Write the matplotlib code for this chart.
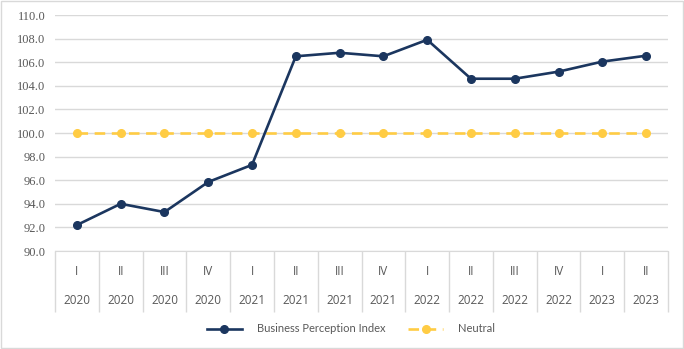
import matplotlib.pyplot as plt
from matplotlib.patches import Rectangle
from matplotlib.lines import Line2D

quarters = ['I', 'II', 'III', 'IV', 'I', 'II', 'III', 'IV', 'I', 'II', 'III', 'IV', 'I', 'II']
years = ['2020', '2020', '2020', '2020', '2021', '2021', '2021', '2021',
         '2022', '2022', '2022', '2022', '2023', '2023']
bpi = [92.2, 94.0, 93.3, 95.85, 97.3, 106.5, 106.8, 106.5, 107.9, 104.6, 104.6, 105.2, 106.05, 106.55]
neutral = [100.0] * 14

navy = '#1B365F'
gold = '#FFCC44'
grey_txt = '#595959'
grid_c = '#D9D9D9'

fig = plt.figure(figsize=(6.84, 3.49), dpi=100)
ax = fig.add_axes([55 / 684, 98 / 349, 613 / 684, 236 / 349])

x = list(range(len(bpi)))
ax.plot(x, neutral, color=gold, lw=1.9, ls=(0, (4, 2.5)), marker='o', ms=5.5, label='Neutral', zorder=3)
ax.plot(x, bpi, color=navy, lw=1.9, marker='o', ms=5.5, label='Business Perception Index', zorder=4)

ax.set_xlim(-0.5, len(x) - 0.5)
ax.set_ylim(90, 110)
ax.set_yticks([90 + 2 * i for i in range(11)])
ax.set_yticklabels([f'{90 + 2 * i:.1f}' for i in range(11)], family='Liberation Serif',
                   fontsize=9, color=grey_txt)
ax.tick_params(axis='y', length=0, pad=7)
ax.grid(axis='y', color=grid_c, lw=1)
ax.set_axisbelow(True)
for s in ['top', 'right', 'left']:
    ax.spines[s].set_visible(False)
ax.spines['bottom'].set_color(grid_c)

# category boxes: long ticks at the boundaries, labels as text
ax.set_xticks([i - 0.5 for i in range(len(x) + 1)])
ax.set_xticklabels([])
ax.tick_params(axis='x', length=44, color=grid_c, width=1)
trans = ax.get_xaxis_transform()
for i in x:
    ax.text(i, -0.085, quarters[i], transform=trans, ha='center', va='center',
            fontsize=8.5, color=grey_txt, family='Open Sans')
    ax.text(i, -0.21, years[i], transform=trans, ha='center', va='center',
            fontsize=8.5, color=grey_txt, family='Open Sans')

handles = [Line2D([], [], color=navy, lw=1.9, marker='o', ms=5.5),
           Line2D([], [], color=gold, lw=1.9, ls=(0, (4, 2.5)), marker='o', ms=5.5)]
fig.legend(handles, ['Business Perception Index', 'Neutral'], loc='center',
           bbox_to_anchor=(351 / 684, 20 / 349), ncol=2, frameon=False,
           prop={'family': 'Lato', 'size': 8}, labelcolor=grey_txt,
           handlelength=3.2, columnspacing=2.0, handletextpad=1.35)

fig.patches.append(Rectangle((0.001, 0.002), 0.997, 0.995, transform=fig.transFigure,
                             fill=False, edgecolor='#D9D9D9', lw=1))

plt.savefig('out.png', dpi=100)
